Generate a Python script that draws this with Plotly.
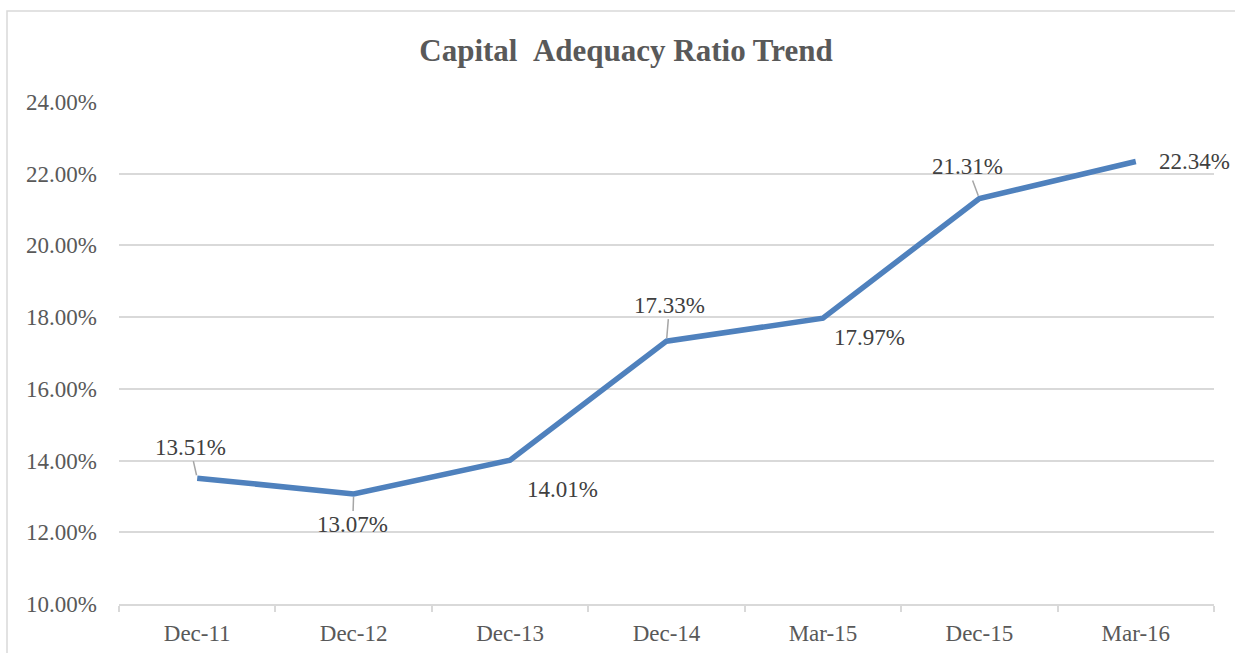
import plotly.graph_objects as go

categories = ["Dec-11", "Dec-12", "Dec-13", "Dec-14", "Mar-15", "Dec-15", "Mar-16"]
car_values = [0.1351, 0.1307, 0.1401, 0.1733, 0.1797, 0.2131, 0.2234]
label_texts = ["13.51%", "13.07%", "14.01%", "17.33%", "17.97%", "21.31%", "22.34%"]
y_ticks = [0.10, 0.12, 0.14, 0.16, 0.18, 0.20, 0.22, 0.24]

# label offsets (pixels) and whether a leader line is shown
label_dx = [-7, -1, 52, 3, 47, -12, 59]
label_dy = [-31, 31, 29, -36, 19, -32, 0]
leader = [True, True, False, True, False, True, False]

FONT = "Liberation Serif, Times New Roman, serif"
GRID = "#d9d9d9"

L, R, T, B = 119, 1214, 102, 604
W, H = 1235, 653
PW, PH = R - L, B - T

fig = go.Figure()
fig.add_trace(go.Scatter(
    x=categories, y=car_values, mode="lines",
    line=dict(color="#4F81BD", width=5.5),
    hoverinfo="x+y",
))

for c, v, t, dx, dy, ld in zip(categories, car_values, label_texts, label_dx, label_dy, leader):
    fig.add_annotation(
        x=c, y=v, text=t, showarrow=True,
        ax=dx, ay=dy, axref="pixel", ayref="pixel",
        arrowhead=0, arrowwidth=1.5,
        arrowcolor="#a6a6a6" if ld else "rgba(0,0,0,0)",
        standoff=3, startstandoff=0,
        font=dict(family=FONT, size=23, color="#404040"),
    )

# chart border
fig.add_shape(type="rect", xref="paper", yref="paper",
              x0=(7 - L) / PW, x1=(1260 - L) / PW,
              y0=(B - 700) / PH, y1=(B - 11) / PH,
              line=dict(color=GRID, width=1.5), fillcolor="rgba(0,0,0,0)", layer="below")

fig.update_layout(
    width=W, height=H,
    margin=dict(l=L, r=W - R, t=T, b=H - B, autoexpand=False),
    paper_bgcolor="white", plot_bgcolor="white",
    showlegend=False,
    title=dict(text="<b>Capital\u00a0\u00a0Adequacy Ratio Trend</b>",
               x=626 / W, xanchor="center", y=1 - 50 / H, yanchor="middle",
               font=dict(family=FONT, size=31, color="#595959")),
    xaxis=dict(
        type="category", tickson="boundaries", ticks="outside", ticklen=6,
        tickcolor=GRID, tickwidth=1.5, showline=True, linecolor=GRID, linewidth=1.5,
        showgrid=False, zeroline=False, ticklabelstandoff=8, automargin=False,
        tickfont=dict(family=FONT, size=23, color="#595959"),
        range=[-0.5, 6.5],
    ),
    yaxis=dict(
        range=[0.10, 0.24], tickvals=y_ticks, tickformat=".2%",
        showgrid=True, gridcolor=GRID, gridwidth=1.5, zeroline=False, showline=False,
        ticks="", ticklabelstandoff=21, automargin=False,
        tickfont=dict(family=FONT, size=23, color="#595959"),
    ),
)

fig.write_html(
    "out.html",
    config={"displayModeBar": False},
    post_script="document.body.style.margin='0';document.body.style.overflow='hidden';",
)
